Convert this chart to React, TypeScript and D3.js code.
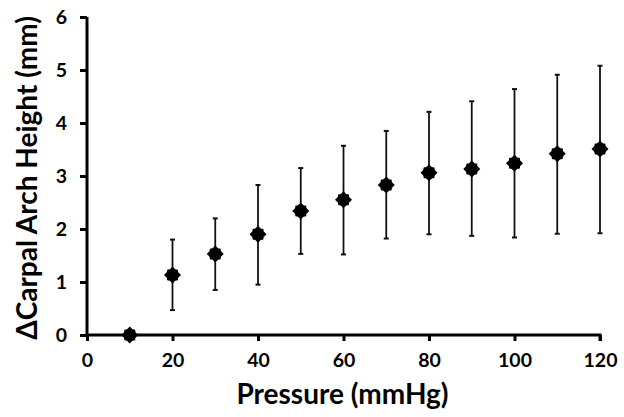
import React, { useEffect, useRef } from 'react';
import * as d3 from 'd3';

const pressures = [10, 20, 30, 40, 50, 60, 70, 80, 90, 100, 110, 120];
const meanHeight = [0, 1.13, 1.53, 1.9, 2.34, 2.55, 2.83, 3.06, 3.13, 3.24, 3.42, 3.51];
const upperBound = [0, 1.8, 2.2, 2.83, 3.15, 3.57, 3.85, 4.21, 4.41, 4.64, 4.91, 5.08];
const lowerBound = [0, 0.47, 0.85, 0.95, 1.53, 1.52, 1.82, 1.9, 1.87, 1.84, 1.91, 1.92];
const xTicks = [0, 20, 40, 60, 80, 100, 120];
const yTicks = [0, 1, 2, 3, 4, 5, 6];

const W = 624;
const H = 417;
const FONT = 'Lato, "Open Sans", sans-serif';

const App: React.FC = () => {
  const svgRef = useRef<SVGSVGElement>(null);

  useEffect(() => {
    if (!svgRef.current) return;
    const svg = d3.select(svgRef.current);
    svg.selectAll('*').remove();

    const x = d3.scaleLinear().domain([0, 120]).range([87, 600]);
    const y = d3.scaleLinear().domain([0, 6]).range([335, 17]);

    // axes
    const xAxis = d3.axisBottom(x).tickValues(xTicks).tickSize(6).tickPadding(12);
    const yAxis = d3.axisLeft(y).tickValues(yTicks).tickSize(7).tickPadding(13)
      .tickFormat(d3.format('d'));

    const xg = svg.append('g').attr('transform', `translate(0,${y(0)})`).call(xAxis);
    const yg = svg.append('g').attr('transform', `translate(${x(0)},0)`).call(yAxis);

    [xg, yg].forEach((ax) => {
      ax.select('.domain').attr('stroke', '#000').attr('stroke-width', 3);
      ax.selectAll('.tick line').attr('stroke', '#000').attr('stroke-width', 3);
      ax.selectAll('.tick text')
        .attr('font-family', FONT)
        .attr('font-weight', 'bold')
        .attr('font-size', 19.5)
        .attr('fill', '#000');
    });
    xg.select('.domain').attr('d', `M${x(0)},0H${x(120)}V6`);
    yg.select('.domain').attr('d', `M0,${y(6)}H0V${y(0)}`);

    const g = svg.append('g');

    // error bars
    pressures.forEach((p, i) => {
      if (upperBound[i] === lowerBound[i]) return;
      const cx = x(p);
      g.append('line')
        .attr('x1', cx).attr('x2', cx)
        .attr('y1', y(upperBound[i])).attr('y2', y(lowerBound[i]))
        .attr('stroke', '#111').attr('stroke-width', 1.8);
      [upperBound[i], lowerBound[i]].forEach((v) => {
        g.append('line')
          .attr('x1', cx - 2.5).attr('x2', cx + 2.5)
          .attr('y1', y(v)).attr('y2', y(v))
          .attr('stroke', '#111').attr('stroke-width', 2);
      });
    });

    // markers: diamond overlaid with a square
    pressures.forEach((p, i) => {
      const m = g.append('g').attr('transform', `translate(${x(p)},${y(meanHeight[i])})`);
      m.append('path').attr('d', 'M0,-8.5L8.5,0L0,8.5L-8.5,0Z').attr('fill', '#000');
      m.append('rect').attr('x', -5.5).attr('y', -5.5).attr('width', 11).attr('height', 11)
        .attr('rx', 1).attr('fill', '#000');
    });

    // titles
    svg.append('text')
      .attr('x', (x(0) + x(120)) / 2 - 1)
      .attr('y', 404)
      .attr('text-anchor', 'middle')
      .attr('font-family', FONT)
      .attr('font-weight', 'bold')
      .attr('font-size', 28)
      .text('Pressure (mmHg)');

    svg.append('text')
      .attr('transform', `translate(37,${(y(0) + y(6)) / 2 + 2}) rotate(-90)`)
      .attr('text-anchor', 'middle')
      .attr('font-family', FONT)
      .attr('font-weight', 'bold')
      .attr('font-size', 28)
      .text('ΔCarpal Arch Height (mm)');
  }, []);

  return (
    <svg
      ref={svgRef}
      width={W}
      height={H}
      style={{ position: 'absolute', left: 0, top: 0, background: '#fff' }}
    />
  );
};

export default App;
